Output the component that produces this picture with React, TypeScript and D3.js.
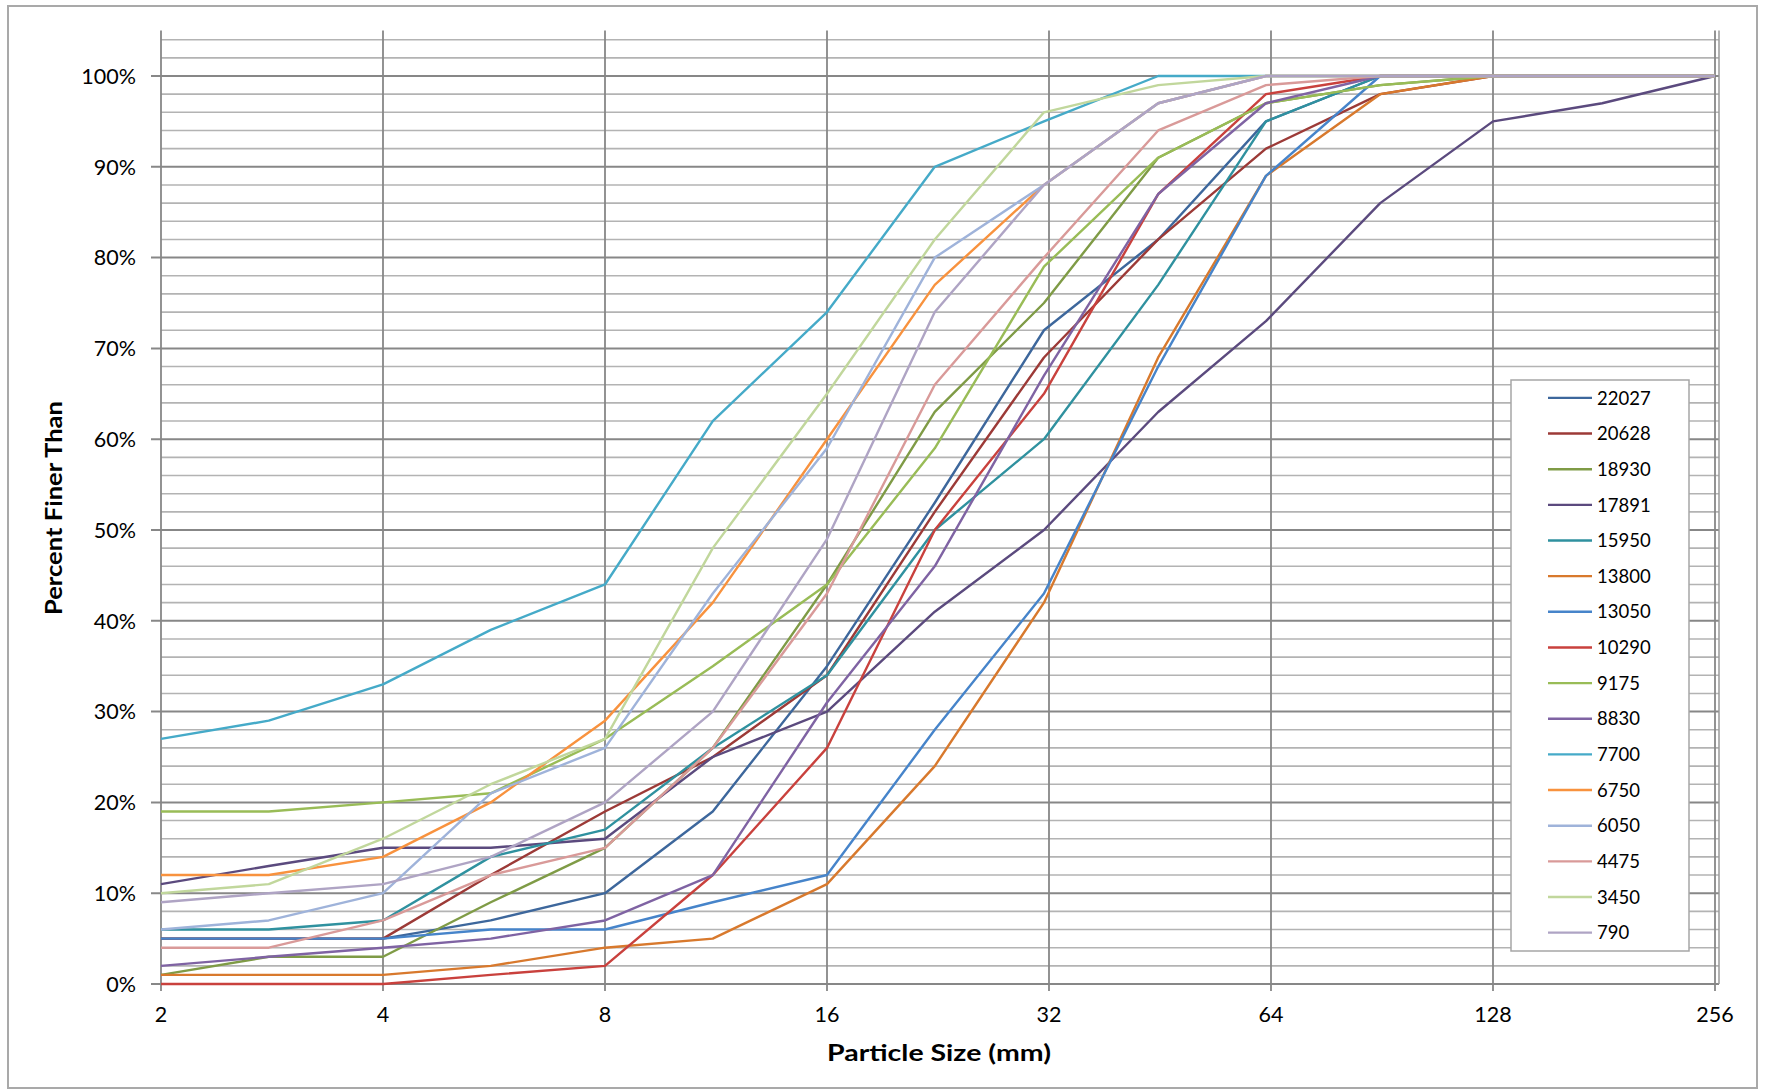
import React from "react";
import * as d3 from "d3";

const SIZES = [2, 2.8, 4, 5.6, 8, 11.2, 16, 22.4, 31.5, 45, 63, 90, 128, 180, 256];
const X_TICKS = [2, 4, 8, 16, 32, 64, 128, 256];
const Y_MAJOR = [0, 10, 20, 30, 40, 50, 60, 70, 80, 90, 100];
const Y_MINOR = [2, 4, 6, 8, 12, 14, 16, 18, 22, 24, 26, 28, 32, 34, 36, 38, 42, 44, 46, 48, 52, 54, 56, 58, 62, 64, 66, 68, 72, 74, 76, 78, 82, 84, 86, 88, 92, 94, 96, 98, 102, 104];

const NAMES = ["22027", "20628", "18930", "17891", "15950", "13800", "13050", "10290", "9175", "8830", "7700", "6750", "6050", "4475", "3450", "790"];
const COLORS = ["#3D679C", "#9C3A37", "#7F9B46", "#5B4A7E", "#2F919F", "#D8792D", "#4684CA", "#C9413D", "#99BC57", "#7F63A3", "#45AAC8", "#F8923E", "#9FB3DA", "#D99A99", "#C1D79C", "#AFA4C4"];

const s22027 = [5, 5, 5, 7, 10, 19, 35, 53, 72, 82, 95, 100, 100, 100, 100];
const s20628 = [5, 5, 5, 12, 19, 25, 34, 52, 69, 82, 92, 98, 100, 100, 100];
const s18930 = [1, 3, 3, 9, 15, 26, 44, 63, 75, 91, 97, 99, 100, 100, 100];
const s17891 = [11, 13, 15, 15, 16, 25, 30, 41, 50, 63, 73, 86, 95, 97, 100];
const s15950 = [6, 6, 7, 14, 17, 26, 34, 50, 60, 77, 95, 100, 100, 100, 100];
const s13800 = [1, 1, 1, 2, 4, 5, 11, 24, 42, 69, 89, 98, 100, 100, 100];
const s13050 = [5, 5, 5, 6, 6, 9, 12, 28, 43, 68, 89, 100, 100, 100, 100];
const s10290 = [0, 0, 0, 1, 2, 12, 26, 50, 65, 87, 98, 100, 100, 100, 100];
const s9175 = [19, 19, 20, 21, 27, 35, 44, 59, 79, 91, 97, 99, 100, 100, 100];
const s8830 = [2, 3, 4, 5, 7, 12, 31, 46, 67, 87, 97, 100, 100, 100, 100];
const s7700 = [27, 29, 33, 39, 44, 62, 74, 90, 95, 100, 100, 100, 100, 100, 100];
const s6750 = [12, 12, 14, 20, 29, 42, 60, 77, 88, 97, 100, 100, 100, 100, 100];
const s6050 = [6, 7, 10, 21, 26, 43, 59, 80, 88, 97, 100, 100, 100, 100, 100];
const s4475 = [4, 4, 7, 12, 15, 26, 43, 66, 80, 94, 99, 100, 100, 100, 100];
const s3450 = [10, 11, 16, 22, 27, 48, 65, 82, 96, 99, 100, 100, 100, 100, 100];
const s790 = [9, 10, 11, 14, 20, 30, 49, 74, 88, 97, 100, 100, 100, 100, 100];

const SERIES = [s22027, s20628, s18930, s17891, s15950, s13800, s13050, s10290, s9175, s8830, s7700, s6750, s6050, s4475, s3450, s790];

const W = 1769;
const H = 1091;
const PL = 161;
const PR = 1719;
const PT = 30.6;
const PB = 984;
const FONT = "Lato, 'Open Sans', sans-serif";

export default function App() {
  const x = d3.scaleLog().base(2).domain([2, 256]).range([PL, 1715]);
  const y = d3.scaleLinear().domain([0, 105]).range([PB, PT]);
  const line = d3
    .line<[number, number]>()
    .x((d) => x(d[0]))
    .y((d) => y(d[1]));

  const legX = 1511;
  const legY = 380;
  const legW = 178;
  const legH = 571;
  const rowY = (i: number) => 397.9 + i * 35.65;

  return (
    <svg
      width={W}
      height={H}
      style={{ position: "absolute", left: 0, top: 0, background: "#fff" }}
      fontFamily={FONT}
    >
      <rect x={0} y={0} width={W} height={H} fill="#fff" />
      <rect x={8} y={6} width={1749} height={1082} fill="#fff" stroke="#a9a9a9" strokeWidth={2} />

      {/* minor horizontal gridlines */}
      {Y_MINOR.map((v) => (
        <line key={"mn" + v} x1={PL} x2={PR} y1={y(v)} y2={y(v)} stroke="#b3b3b3" strokeWidth={1.6} />
      ))}
      {/* major horizontal gridlines */}
      {Y_MAJOR.map((v) => (
        <line key={"mj" + v} x1={PL - 10} x2={PR} y1={y(v)} y2={y(v)} stroke="#878787" strokeWidth={2} />
      ))}
      {/* vertical gridlines */}
      {X_TICKS.map((v) => (
        <line key={"vx" + v} x1={x(v)} x2={x(v)} y1={PT} y2={PB + 7} stroke="#878787" strokeWidth={1.8} />
      ))}
      <line x1={PR} x2={PR} y1={PT} y2={PB} stroke="#9a9a9a" strokeWidth={1.5} />

      {/* y tick labels */}
      {Y_MAJOR.map((v) => (
        <text key={"yl" + v} x={136} y={y(v)} dy="0.36em" textAnchor="end" fontSize={21.5} fill="#000">
          {v + "%"}
        </text>
      ))}
      {/* x tick labels */}
      {X_TICKS.map((v) => (
        <text key={"xl" + v} x={x(v)} y={1022} textAnchor="middle" fontSize={21.5} fill="#000">
          {String(v)}
        </text>
      ))}

      {/* series */}
      {SERIES.map((vals, i) => (
        <path
          key={NAMES[i]}
          d={line(SIZES.map((s, j) => [s, vals[j]] as [number, number])) || ""}
          fill="none"
          stroke={COLORS[i]}
          strokeWidth={2.4}
          strokeLinejoin="round"
        />
      ))}

      {/* axis titles */}
      <text
        x={939}
        y={1061}
        textAnchor="middle"
        fontSize={22}
        fontWeight="bold"
        textLength={224}
        lengthAdjust="spacingAndGlyphs"
        fill="#000"
      >
        Particle Size (mm)
      </text>
      <text
        transform={`translate(62,508) rotate(-90)`}
        textAnchor="middle"
        fontSize={22}
        fontWeight="bold"
        textLength={214}
        lengthAdjust="spacingAndGlyphs"
        fill="#000"
      >
        Percent Finer Than
      </text>

      {/* legend */}
      <rect x={legX} y={legY} width={legW} height={legH} fill="#fff" stroke="#a6a6a6" strokeWidth={1.5} />
      {NAMES.map((n, i) => (
        <g key={"lg" + n}>
          <line x1={1548} x2={1592} y1={rowY(i)} y2={rowY(i)} stroke={COLORS[i]} strokeWidth={2.4} />
          <text x={1597} y={rowY(i)} dy="0.36em" fontSize={18.5} fill="#000">
            {n}
          </text>
        </g>
      ))}
    </svg>
  );
}
